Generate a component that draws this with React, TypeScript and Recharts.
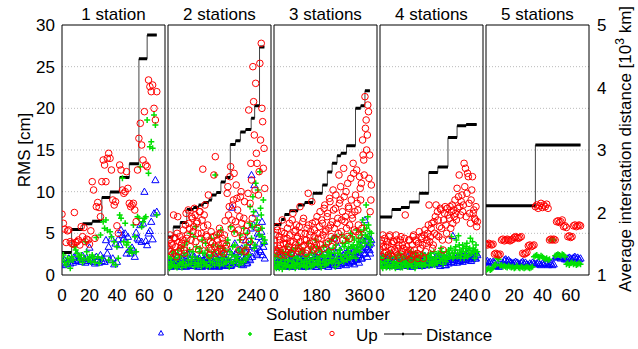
import React from 'react';
import { ComposedChart, Scatter, Line, XAxis, YAxis, ReferenceLine } from 'recharts';

const FONT = '"Liberation Sans", Arial, Helvetica, sans-serif';
const BLUE = '#0000ff';
const GREEN = '#00e000';
const RED = '#ff0000';

// panel layout
const titles = ['1 station', '2 stations', '3 stations', '4 stations', '5 stations'];
const panelLefts = [62, 168, 274, 380, 486];
const PLOT_W = 103;
const SIDE = 15;
const xMaxes = [75, 296, 436, 294, 73];
const xTicks = [[0, 20, 40, 60], [0, 120, 240], [0, 180, 360], [0, 120, 240], [0, 20, 40, 60]];
// solution-number spacing of the listed values; "Mid" lists sit halfway between
const sampleStep = [1, 4, 5, 4, 1];
const midOffset = [0, 2, 2, 2, 0];

const rmsTicks = [0, 5, 10, 15, 20, 25, 30];
const gridValues = [5, 10, 15, 20, 25];
const distTicks = [1, 2, 3, 4, 5];
const legendItems = ['North', 'East', 'Up', 'Distance'];

// RMS [cm] per solution, 1 station
const north1 = [
  1.5, 1.2, 1.8, 1.3, 1.6, 2.0, 1.4, 1.9, 1.5, 2.2,
  1.7, 2.5, 1.8, 2.0, 1.6, 2.3, 1.9, 1.5, 2.1, 1.7,
  3.3, 1.8, 2.0, 1.6, 1.4, 2.2, 1.8, 1.5, 2.4, 1.7,
  2.0, 1.6, 4.2, 2.6, 3.4, 1.8, 4.4, 2.0, 1.3, 3.8,
  1.6, 4.3, 3.6, 5.4, 4.8, 4.4, 5.0, 2.6, 4.6, 3.0,
  2.6, 3.3, 3.0, 2.2, 5.1, 4.4, 4.2, 6.0, 4.0, 6.2,
  10.0, 4.1, 3.6, 5.0, 5.3, 6.4, 4.3, 7.4, 11.4, 7.6,
];
const east1 = [
  1.8, 2.4, 1.5, 1.2, 2.0, 1.6, 0.8, 2.2, 1.8, 3.4,
  3.0, 2.6, 2.2, 1.8, 2.4, 1.5, 2.0, 4.0, 2.8, 1.8,
  2.2, 1.6, 2.4, 2.0, 1.5, 4.5, 2.2, 1.4, 4.8, 2.0,
  6.4, 5.6, 6.6, 5.4, 1.8, 5.2, 4.6, 1.5, 4.0, 1.2,
  3.4, 2.0, 7.2, 6.8, 11.6, 4.0, 6.2, 3.6, 3.9, 2.8,
  3.2, 2.6, 6.0, 4.6, 2.8, 7.0, 6.8, 13.0, 5.8, 6.4,
  6.8, 7.0, 18.6, 12.2, 15.4, 16.0, 15.2, 19.2, 18.0, 7.2,
];
const up1 = [
  7.3, 6.2, 5.5, 3.9, 5.3, 5.4, 4.0, 3.8, 3.7, 7.5,
  3.9, 4.0, 4.2, 3.6, 5.8, 4.6, 5.7, 4.0, 4.3, 4.2,
  3.7, 5.3, 11.2, 10.2, 4.4, 8.2, 8.7, 8.1, 7.0, 11.2,
  13.8, 13.2, 11.2, 14.0, 14.6, 14.0, 12.6, 9.0, 8.4, 8.8,
  5.9, 5.0, 13.2, 12.6, 10.2, 9.8, 10.0, 12.4, 10.4, 8.6,
  8.2, 8.4, 8.6, 7.8, 6.4, 12.6, 16.4, 18.2, 15.6, 13.8,
  19.6, 13.2, 13.0, 23.4, 22.6, 22.0, 22.8, 20.0, 18.6, 22.0,
];
const distLevels1 = [1.36, 1.73, 1.82, 1.86, 2.24, 2.33, 2.56, 2.78, 4.46, 4.84];
const distEdges1 = [0, 7, 15, 22, 29, 35, 42, 49, 56, 62, 69];

// 2 stations (every 4th solution, plus the ones halfway between)
const north2 = [
  1.2, 1.6, 1.0, 2.2, 1.4, 1.8, 1.1, 2.4, 1.5, 1.3,
  2.0, 1.2, 1.7, 1.0, 2.6, 1.4, 1.9, 1.1, 1.5, 2.2,
  1.3, 1.8, 1.0, 1.6, 2.4, 1.2, 1.5, 1.1, 2.0, 1.4,
  1.7, 1.0, 1.3, 2.6, 1.5, 1.2, 1.8, 1.1, 1.4, 2.0,
  1.6, 1.2, 1.9, 1.3, 1.5, 1.1, 8.1, 2.2, 3.8, 1.6,
  2.8, 1.4, 1.8, 3.2, 1.2, 2.0, 4.2, 1.5, 2.6, 1.8,
  12.0, 3.6, 10.8, 7.4, 2.4, 4.6, 3.0, 5.2, 2.4, 4.0,
];
const north2Mid = [
  1.8, 1.1, 1.4, 2.0, 1.2, 1.6, 2.2, 1.3, 1.0, 1.7,
  1.4, 2.1, 1.1, 1.6, 1.2, 1.9, 1.4, 2.4, 1.1, 1.5,
  1.7, 1.2, 2.0, 1.4, 1.0, 1.8, 1.3, 2.2, 1.5, 1.1,
  1.9, 1.3, 1.6, 1.1, 2.2, 1.4, 1.0, 1.7, 1.2, 2.4,
  1.3, 1.8, 1.1, 1.5, 2.8, 1.2, 2.0, 1.4, 2.6, 1.9,
  1.5, 3.0, 1.3, 2.2, 1.7, 2.8, 1.4, 3.4, 2.0, 5.6,
  2.2, 6.0, 3.2, 2.6, 5.0, 3.8, 2.8, 6.4, 3.4, 2.0,
];
const east2 = [
  1.4, 0.8, 2.0, 1.2, 2.6, 1.0, 1.8, 3.0, 1.2, 2.2,
  0.9, 1.6, 3.6, 1.1, 2.4, 1.3, 5.0, 1.8, 2.8, 1.0,
  5.8, 2.0, 1.4, 3.2, 1.0, 2.6, 1.6, 3.8, 1.2, 2.2,
  1.0, 4.4, 1.5, 2.8, 12.0, 1.8, 3.4, 1.1, 5.4, 2.0,
  1.3, 3.0, 1.6, 4.2, 1.0, 5.8, 2.4, 1.4, 3.6, 1.8,
  2.2, 1.2, 4.8, 2.6, 1.5, 3.2, 1.8, 5.0, 2.4, 8.2,
  4.4, 9.4, 3.2, 11.0, 6.6, 5.4, 12.4, 7.2, 4.6, 3.8,
];
const east2Mid = [
  2.2, 1.0, 1.6, 2.8, 1.2, 2.0, 0.9, 2.4, 1.4, 3.2,
  1.6, 2.6, 1.2, 4.0, 1.8, 3.0, 1.3, 2.2, 4.6, 1.5,
  3.4, 1.2, 2.8, 1.8, 4.2, 1.4, 2.6, 1.1, 3.0, 2.0,
  1.6, 2.4, 3.6, 1.2, 2.0, 4.8, 1.4, 2.6, 1.8, 3.2,
  2.4, 1.5, 3.8, 2.0, 2.8, 1.6, 3.4, 5.2, 2.2, 1.8,
  3.0, 4.2, 1.6, 2.8, 5.6, 2.0, 3.6, 2.4, 6.2, 4.0,
  5.8, 7.6, 3.6, 6.0, 10.2, 4.8, 8.0, 5.6, 9.0, 4.2,
];
const up2 = [
  3.5, 4.2, 2.8, 3.6, 7.2, 4.5, 2.2, 7.0, 4.0, 3.2,
  3.8, 5.4, 2.6, 7.4, 4.8, 6.2, 3.4, 7.0, 5.2, 8.0,
  4.0, 6.4, 3.0, 7.6, 5.0, 12.7, 7.2, 3.6, 4.6, 9.6,
  2.4, 5.2, 3.8, 12.0, 14.2, 4.8, 2.8, 5.6, 3.2, 4.4,
  2.6, 6.5, 3.6, 10.6, 8.2, 13.0, 6.6, 9.0, 5.0, 10.8,
  7.8, 3.0, 9.4, 6.2, 4.2, 8.8, 3.0, 6.0, 19.8, 8.6,
  11.4, 25.0, 16.8, 23.0, 13.4, 9.6, 25.4, 27.8, 18.4, 15.2,
];
const up2Mid = [
  3.0, 4.8, 3.8, 2.6, 4.4, 3.4, 5.0, 2.8, 4.6, 3.6,
  4.2, 3.0, 6.0, 4.4, 7.8, 5.6, 4.2, 6.8, 5.8, 7.2,
  6.2, 5.0, 7.6, 4.4, 6.6, 5.8, 8.4, 4.8, 6.0, 3.2,
  4.0, 3.0, 4.6, 3.4, 2.6, 4.2, 3.6, 5.0, 2.8, 3.8,
  4.8, 3.2, 9.8, 7.2, 11.8, 5.6, 8.4, 12.2, 6.4, 9.2,
  5.4, 7.0, 10.0, 4.6, 6.8, 2.8, 5.2, 9.8, 4.0, 13.4,
  6.8, 20.8, 10.2, 14.6, 5.6, 12.4, 16.2, 20.0, 12.8, 10.4,
];
const distLevels2 = [1.61, 1.77, 1.84, 2.05, 2.08, 2.12, 2.16, 2.2, 2.28, 2.32, 2.49, 2.56, 3.09, 3.15, 3.29, 3.33, 3.51, 3.71, 4.65];
const distEdges2 = [0, 15, 35, 54, 73, 88, 102, 117, 126, 139, 152, 165, 179, 194, 208, 223, 239, 249, 263, 277];

// 3 stations (every 5th solution, plus the ones in between)
const north3 = [
  1.4, 2.0, 1.1, 1.6, 2.4, 1.2, 1.8, 1.0, 2.2, 1.5,
  1.3, 2.8, 1.1, 1.7, 1.4, 2.0, 1.0, 1.6, 2.3, 1.2,
  1.9, 1.4, 1.1, 2.6, 1.5, 1.2, 1.8, 1.0, 2.1, 1.4,
  1.6, 1.1, 2.4, 1.3, 1.7, 1.0, 2.0, 1.5, 1.2, 2.2,
  1.4, 1.1, 1.8, 2.6, 1.3, 1.6, 1.0, 2.0, 1.4, 2.8,
  1.2, 4.4, 1.6, 2.2, 1.1, 1.8, 2.4, 1.3, 2.0, 1.5,
  2.6, 1.2, 1.9, 3.0, 1.4, 2.2, 1.6, 2.8, 1.3, 2.0,
  1.8, 2.4, 1.5, 3.2, 2.0, 4.2, 2.6, 6.6, 3.4, 2.2,
  4.6, 3.0, 3.8,
];
const north3Mid = [
  1.8, 1.2, 1.5, 2.6, 1.0, 1.6, 2.0, 1.3, 1.7, 1.1,
  2.2, 1.4, 1.0, 1.8, 1.3, 2.4, 1.6, 1.1, 1.9, 1.4,
  1.2, 2.0, 1.5, 1.0, 1.7, 2.3, 1.3, 1.6, 1.1, 1.9,
  2.4, 1.4, 1.2, 1.8, 1.5, 2.1, 1.0, 1.6, 2.6, 1.3,
  1.7, 2.2, 1.2, 1.5, 2.0, 1.4, 3.0, 1.6, 1.2, 2.2,
  1.8, 1.4, 2.6, 1.6, 3.4, 1.3, 2.0, 1.7, 2.4, 1.5,
  2.2, 1.8, 2.8, 1.5, 2.4, 3.2, 1.7, 2.0, 2.6, 1.9,
  2.8, 2.2, 3.6, 2.4, 2.0, 3.0, 3.8, 2.6, 4.4, 3.2,
  3.6, 2.6, 4.2,
];
const east3 = [
  1.0, 2.2, 0.8, 1.6, 3.0, 1.2, 2.0, 0.7, 2.6, 1.4,
  1.0, 3.4, 1.8, 0.9, 2.4, 1.2, 3.0, 1.5, 0.8, 2.0,
  1.3, 3.6, 1.0, 1.8, 2.8, 1.1, 1.6, 0.9, 2.2, 3.8,
  1.4, 1.0, 2.6, 1.7, 1.2, 4.2, 2.0, 1.3, 3.0, 1.6,
  0.9, 2.4, 3.4, 1.2, 1.8, 2.8, 1.4, 4.0, 2.2, 1.5,
  3.2, 1.8, 1.0, 4.6, 2.6, 1.4, 3.0, 2.0, 3.8, 1.6,
  2.4, 4.4, 1.8, 3.2, 2.6, 5.0, 2.2, 3.6, 4.2, 2.8,
  5.4, 3.0, 4.0, 3.4, 4.8, 6.6, 5.4, 3.8, 8.4, 4.6,
  6.0, 5.2, 4.0,
];
const east3Mid = [
  1.6, 1.0, 2.4, 1.3, 0.8, 2.0, 1.5, 2.8, 1.1, 1.8,
  2.4, 1.2, 1.7, 2.8, 1.0, 1.6, 2.2, 1.2, 3.2, 1.4,
  2.0, 1.0, 2.6, 1.5, 3.0, 1.2, 2.2, 1.6, 1.0, 2.4,
  1.8, 3.2, 1.1, 2.0, 2.6, 1.4, 3.4, 1.7, 2.2, 1.2,
  2.8, 1.6, 2.2, 3.6, 1.3, 2.4, 3.0, 1.8, 2.6, 4.4,
  1.6, 2.6, 3.6, 2.0, 1.4, 3.0, 2.4, 4.8, 1.8, 3.4,
  3.8, 2.2, 2.8, 4.0, 2.0, 3.4, 4.6, 2.6, 3.2, 2.0,
  3.6, 4.4, 2.8, 5.2, 3.4, 4.2, 6.0, 4.8, 5.6, 7.0,
  4.4, 3.6, 5.0,
];
const up3 = [
  3.5, 4.8, 2.6, 5.4, 3.2, 4.2, 2.4, 6.6, 3.8, 5.0,
  2.8, 4.4, 3.4, 6.2, 4.0, 2.6, 7.4, 5.2, 3.6, 6.0,
  4.6, 2.8, 8.2, 5.0, 3.4, 6.8, 4.2, 2.6, 5.6, 9.8,
  3.8, 5.2, 8.8, 3.0, 4.6, 6.4, 3.6, 5.0, 2.8, 7.6,
  4.4, 6.2, 3.2, 8.4, 5.4, 7.0, 4.0, 9.2, 6.0, 3.4,
  10.2, 5.6, 8.0, 4.2, 6.8, 12.0, 9.0, 5.2, 7.6, 12.8,
  6.4, 10.0, 4.6, 8.2, 6.0, 11.6, 7.2, 13.4, 5.4, 9.6,
  12.6, 7.8, 4.8, 10.4, 11.0, 16.2, 13.8, 21.4, 18.6, 16.8,
  19.6, 14.4, 9.0,
];
const up3Mid = [
  4.2, 3.0, 5.8, 2.8, 4.6, 3.6, 5.2, 3.0, 4.4, 2.4,
  3.8, 5.6, 3.0, 4.8, 2.6, 6.6, 4.0, 3.2, 5.4, 4.4,
  3.2, 5.8, 4.0, 2.8, 6.4, 3.6, 5.0, 4.2, 3.0, 6.0,
  4.8, 3.4, 6.2, 4.0, 5.4, 3.2, 7.0, 4.4, 5.8, 3.6,
  6.6, 4.8, 8.0, 5.2, 3.8, 7.4, 5.6, 8.8, 4.6, 6.4,
  7.8, 4.4, 9.6, 6.2, 5.0, 8.6, 10.6, 6.6, 4.2, 9.4,
  7.0, 5.6, 11.0, 8.0, 4.4, 9.0, 6.8, 12.2, 7.6, 5.2,
  8.6, 6.0, 11.8, 9.0, 5.6, 14.4, 12.0, 17.6, 15.0, 20.4,
  11.6, 7.6, 10.8,
];
const distLevels3 = [1.81, 1.89, 1.97, 2.03, 2.12, 2.16, 2.31, 2.44, 2.65, 2.79, 2.91, 2.95, 3.07, 3.67, 3.71, 3.95];
const distEdges3 = [0, 31, 45, 66, 102, 130, 165, 205, 226, 246, 267, 283, 307, 345, 367, 385, 406];

// 4 stations (every 4th solution, plus the ones halfway between)
const north4 = [
  1.8, 1.4, 2.2, 1.2, 1.6, 2.0, 1.1, 1.7, 1.4, 2.4,
  1.2, 1.5, 1.9, 1.0, 1.6, 1.3, 2.1, 1.5, 1.2, 1.8,
  2.2, 1.3, 1.6, 1.0, 1.4, 2.0, 1.7, 1.2, 1.5, 1.9,
  1.1, 1.6, 2.3, 1.4, 1.8, 1.2, 2.0, 1.5, 1.3, 1.7,
  2.2, 1.4, 1.6, 1.1, 1.9, 2.4, 1.5, 1.2, 1.8, 1.4,
  2.0, 1.6, 4.7, 1.8, 2.2, 1.5, 2.0, 1.7, 2.4, 1.6,
  2.1, 1.8, 2.6, 1.9, 2.2, 1.7, 2.4, 2.8, 2.0, 2.6,
];
const north4Mid = [
  1.3, 2.0, 1.5, 1.1, 1.8, 1.4, 2.2, 1.2, 1.6, 1.3,
  1.9, 1.1, 1.6, 2.2, 1.4, 1.2, 1.7, 2.0, 1.4, 1.1,
  1.6, 1.9, 1.3, 1.8, 2.4, 1.2, 1.5, 1.8, 1.1, 1.6,
  1.9, 1.3, 1.7, 1.2, 2.1, 1.6, 1.4, 2.4, 1.8, 1.5,
  1.6, 2.0, 1.3, 2.2, 1.5, 1.8, 1.2, 2.0, 1.6, 2.2,
  1.8, 2.4, 1.5, 2.0, 2.6, 1.7, 2.2, 1.9, 2.3, 1.8,
  2.4, 2.0, 2.2, 2.8, 2.1, 1.9, 2.6, 2.2, 2.0, 2.4,
];
const east4 = [
  1.2, 2.0, 0.8, 1.5, 2.4, 1.0, 1.8, 0.9, 2.2, 1.3,
  1.6, 0.8, 2.0, 1.1, 2.6, 1.4, 0.9, 1.7, 1.2, 2.2,
  1.0, 1.5, 2.8, 1.1, 1.8, 0.8, 1.4, 2.0, 1.2, 2.4,
  1.0, 1.6, 1.3, 2.2, 1.9, 1.1, 2.6, 1.5, 1.8, 1.2,
  2.0, 1.4, 2.4, 1.7, 2.8, 1.3, 2.2, 1.6, 1.9, 3.0,
  2.2, 4.6, 2.0, 2.6, 3.4, 2.2, 4.7, 3.0, 2.4, 3.6,
  2.0, 2.8, 3.8, 2.4, 3.2, 2.6, 4.0, 2.8, 3.0, 2.4,
];
const east4Mid = [
  1.6, 1.0, 2.2, 1.4, 0.9, 1.8, 1.2, 2.6, 1.0, 1.6,
  2.2, 1.2, 1.5, 2.4, 0.9, 1.8, 2.2, 1.3, 1.6, 1.0,
  2.0, 1.4, 1.1, 2.2, 1.6, 2.6, 1.2, 1.8, 2.2, 1.4,
  2.6, 1.8, 1.2, 2.0, 2.4, 1.6, 2.2, 1.3, 2.8, 2.0,
  1.6, 2.6, 2.0, 3.2, 1.8, 2.4, 2.0, 2.8, 2.2, 2.6,
  3.2, 2.6, 2.2, 3.0, 4.2, 2.6, 3.6, 2.0, 2.8, 3.2,
  2.4, 3.4, 2.2, 3.0, 4.4, 2.6, 3.2, 2.0, 3.6, 2.8,
];
const up4 = [
  3.0, 4.2, 4.8, 2.6, 3.4, 4.0, 2.4, 4.8, 3.0, 2.2,
  4.0, 2.8, 4.2, 3.2, 2.0, 4.6, 3.6, 2.2, 7.2, 3.4,
  2.6, 4.2, 1.9, 3.6, 4.8, 2.4, 4.0, 2.0, 5.2, 3.2,
  4.4, 2.0, 5.4, 3.8, 5.0, 8.4, 4.6, 6.2, 3.6, 5.0,
  8.4, 7.6, 4.6, 8.0, 5.6, 3.0, 7.4, 6.0, 8.0, 4.2,
  8.2, 7.6, 6.2, 7.0, 7.4, 10.4, 9.4, 8.2, 8.8, 7.6,
  13.4, 12.8, 9.8, 11.8, 7.4, 9.0, 11.8, 7.8, 6.6, 5.8,
];
const up4Mid = [
  3.8, 2.2, 3.4, 4.4, 2.8, 3.6, 4.6, 2.6, 3.8, 4.0,
  3.0, 4.8, 2.4, 3.6, 4.2, 2.8, 3.2, 4.4, 3.0, 2.4,
  4.2, 3.0, 2.2, 4.6, 3.0, 4.2, 2.6, 3.8, 2.4, 4.6,
  3.6, 4.8, 2.8, 4.2, 6.0, 4.0, 5.6, 3.2, 6.4, 7.0,
  4.8, 6.6, 5.8, 7.8, 4.2, 6.6, 8.2, 5.0, 7.2, 6.8,
  5.6, 8.4, 7.8, 9.0, 6.6, 8.0, 12.0, 7.2, 9.6, 8.4,
  10.6, 7.0, 12.2, 8.6, 6.2, 10.2, 7.4, 6.8, 8.2, 6.4,
];
const distLevels4 = [1.93, 2.05, 2.08, 2.17, 2.31, 2.64, 2.73, 3.2, 3.39, 3.41];
const distEdges4 = [0, 34, 60, 84, 112, 139, 165, 194, 220, 246, 276];

// 5 stations
const north5 = [
  1.6, 1.7, 1.5, 1.6, 1.4, 1.6, 1.5, 1.1, 1.2, 1.0,
  1.3, 1.2, 1.4, 1.8, 1.9, 1.7, 1.8, 1.6, 1.5, 1.4,
  1.5, 1.6, 1.5, 1.4, 1.3, 1.5, 1.6, 1.4, 1.5, 1.3,
  1.2, 1.4, 1.3, 1.5, 1.4, 1.3, 1.4, 1.5, 1.3, 1.2,
  1.4, 1.3, 1.5, 1.4, 1.2, 1.3, 1.4, 1.2, 1.3, 2.1,
  2.2, 2.3, 2.2, 2.0, 2.1, 2.2, 1.9, 1.9, 2.0, 2.1,
  2.0, 1.9, 2.1, 2.2, 2.0, 2.1, 1.9, 2.0,
];
const east5 = [
  0.6, 0.7, 0.8, 0.6, 0.7, 0.9, 1.2, 1.3, 2.0, 1.9,
  1.1, 1.2, 1.0, 1.1, 1.0, 0.9, 1.1, 1.0, 0.9, 1.0,
  0.8, 0.9, 1.1, 0.9, 0.8, 1.0, 0.9, 0.8, 0.9, 1.0,
  0.9, 0.8, 0.9, 1.0, 2.2, 2.3, 2.4, 2.2, 2.1, 2.3,
  2.2, 2.0, 1.9, 2.0, 1.8, 1.9, 4.2, 4.3, 4.2, 2.3,
  2.4, 2.5, 2.4, 2.3, 2.5, 2.4, 2.2, 1.3, 1.4, 1.2,
  1.4, 1.5, 1.3, 1.4, 1.2, 1.3, 1.4, 1.3,
];
const up5 = [
  3.7, 3.6, 3.8, 3.7, 3.6, 3.7, 2.5, 2.6, 2.5, 2.4,
  2.5, 4.2, 4.3, 4.1, 4.2, 4.3, 4.2, 4.1, 4.2, 4.3,
  4.5, 4.6, 4.5, 4.4, 4.5, 4.6, 2.6, 2.5, 2.6, 2.7,
  3.5, 3.6, 3.4, 3.5, 3.6, 8.2, 8.4, 8.0, 8.3, 8.6,
  8.1, 8.4, 8.2, 8.5, 8.0, 4.2, 4.3, 4.2, 4.3, 4.2,
  6.4, 6.5, 6.3, 6.4, 6.6, 5.8, 5.9, 5.7, 4.6, 4.7,
  4.5, 4.6, 5.9, 6.0, 5.8, 5.9, 6.0, 5.9,
];
const distLevels5 = [2.11, 3.08];
const distEdges5 = [0, 35, 67];

const panels = [
  { north: north1, northMid: [], east: east1, eastMid: [], up: up1, upMid: [], levels: distLevels1, edges: distEdges1 },
  { north: north2, northMid: north2Mid, east: east2, eastMid: east2Mid, up: up2, upMid: up2Mid, levels: distLevels2, edges: distEdges2 },
  { north: north3, northMid: north3Mid, east: east3, eastMid: east3Mid, up: up3, upMid: up3Mid, levels: distLevels3, edges: distEdges3 },
  { north: north4, northMid: north4Mid, east: east4, eastMid: east4Mid, up: up4, upMid: up4Mid, levels: distLevels4, edges: distEdges4 },
  { north: north5, northMid: [], east: east5, eastMid: [], up: up5, upMid: [], levels: distLevels5, edges: distEdges5 },
];

const toPoints = (vals: number[], mids: number[], step: number, offset: number) => [
  ...vals.map((v, i) => ({ x: i * step, v })),
  ...mids.map((v, i) => ({ x: i * step + offset, v })),
];

// thin connecting staircase
const stepPath = (levels: number[], edges: number[]) => {
  const pts: { x: number; d: number }[] = [];
  levels.forEach((d, k) => {
    pts.push({ x: edges[k], d });
    pts.push({ x: edges[k + 1], d });
  });
  return pts;
};

// thick horizontal runs, broken between steps
const stepRuns = (levels: number[], edges: number[]) => {
  const pts: { x: number; d: number | null }[] = [];
  levels.forEach((d, k) => {
    pts.push({ x: edges[k], d });
    pts.push({ x: edges[k + 1], d });
    pts.push({ x: edges[k + 1], d: null });
  });
  return pts;
};

// inner tick marks on the panel sides: cm ticks plus the 10^3 km ticks expressed on the cm scale
const sideTicks = [...rmsTicks, ...distTicks.map((d) => ((d - 1) * 30) / 4)];

const TriangleDot = (p: any) => (
  <path
    d={`M${p.cx} ${p.cy - 3.6}L${p.cx + 3.6} ${p.cy + 2.7}L${p.cx - 3.6} ${p.cy + 2.7}Z`}
    fill="none"
    stroke={BLUE}
    strokeWidth={1}
  />
);
const PlusDot = (p: any) => (
  <path d={`M${p.cx - 3} ${p.cy}H${p.cx + 3}M${p.cx} ${p.cy - 3}V${p.cy + 3}`} stroke={GREEN} strokeWidth={1.5} />
);
const CircleDot = (p: any) => <circle cx={p.cx} cy={p.cy} r={3.3} fill="none" stroke={RED} strokeWidth={1} />;

const tickStyle = { fontSize: 17, fill: '#000', fontFamily: FONT };

function Panel({ index }: { index: number }) {
  const p = panels[index];
  const first = index === 0;
  const last = index === 4;
  const extraL = first ? 50 : 0;
  const extraR = last ? 30 : 0;
  const width = SIDE + extraL + PLOT_W + extraR + SIDE;
  const xDomain = [0, xMaxes[index]];
  const step = sampleStep[index];
  const off = midOffset[index];

  return (
    <div style={{ position: 'absolute', left: panelLefts[index] - SIDE - extraL, top: 0 }}>
      <ComposedChart width={width} height={320} margin={{ top: 25, bottom: 25, left: SIDE, right: SIDE }}>
        <XAxis
          dataKey="x"
          type="number"
          domain={xDomain}
          ticks={xTicks[index]}
          interval={0}
          allowDataOverflow
          tickLine={false}
          axisLine={false}
          tickSize={0}
          tickMargin={14}
          height={20}
          tick={tickStyle}
        />
        <XAxis xAxisId="xb" orientation="bottom" mirror type="number" domain={xDomain} ticks={xTicks[index]}
          allowDataOverflow tick={false} tickSize={4} stroke="#000" />
        <XAxis xAxisId="xt" orientation="top" mirror type="number" domain={xDomain} ticks={xTicks[index]}
          allowDataOverflow tick={false} tickSize={4} stroke="#000" />
        <YAxis
          yAxisId="l"
          dataKey="v"
          domain={[0, 30]}
          ticks={rmsTicks}
          interval={0}
          hide={!first}
          width={first ? extraL : 60}
          tickLine={false}
          axisLine={false}
          tickSize={0}
          tickMargin={7}
          tick={tickStyle}
        />
        <YAxis
          yAxisId="r"
          orientation="right"
          domain={[1, 5]}
          ticks={distTicks}
          interval={0}
          hide={!last}
          width={last ? extraR : 60}
          tickLine={false}
          axisLine={false}
          tickSize={0}
          tickMargin={8}
          tick={tickStyle}
        />
        <YAxis yAxisId="lt" orientation="left" mirror domain={[0, 30]} ticks={sideTicks} interval={0} tick={false} tickSize={4} stroke="#000" />
        <YAxis yAxisId="rt" orientation="right" mirror domain={[0, 30]} ticks={sideTicks} interval={0} tick={false} tickSize={4} stroke="#000" />

        {gridValues.map((g) => (
          <ReferenceLine key={g} yAxisId="l" y={g} stroke="#bbbbbb" strokeDasharray="1 2" />
        ))}

        <Scatter yAxisId="l" data={toPoints(p.north, p.northMid, step, off)} shape={TriangleDot} isAnimationActive={false} />
        <Scatter yAxisId="l" data={toPoints(p.east, p.eastMid, step, off)} shape={PlusDot} isAnimationActive={false} />
        <Scatter yAxisId="l" data={toPoints(p.up, p.upMid, step, off)} shape={CircleDot} isAnimationActive={false} />
        <Line
          yAxisId="r"
          data={stepPath(p.levels, p.edges)}
          dataKey="d"
          stroke="#444"
          strokeWidth={1}
          dot={false}
          isAnimationActive={false}
        />
        <Line
          yAxisId="r"
          data={stepRuns(p.levels, p.edges)}
          dataKey="d"
          stroke="#000"
          strokeWidth={3}
          dot={false}
          isAnimationActive={false}
        />
      </ComposedChart>
    </div>
  );
}

export default function App() {
  const legendX = [183, 273, 356, 426];
  return (
    <div style={{ position: 'absolute', left: 0, top: 0, width: 638, height: 349, background: '#fff', fontFamily: FONT }}>
      {panels.map((_, i) => (
        <Panel key={i} index={i} />
      ))}
      <svg width={638} height={349} style={{ position: 'absolute', left: 0, top: 0, pointerEvents: 'none' }}>
        <g fontFamily={FONT} fontSize={17} fill="#000">
          {titles.map((t, i) => (
            <text key={t} x={panelLefts[i] + PLOT_W / 2} y={20} textAnchor="middle">
              {t}
            </text>
          ))}
          <text x={328} y={319.5} textAnchor="middle">Solution number</text>
          <text transform="translate(30,150) rotate(-90)" textAnchor="middle">RMS [cm]</text>
          <text transform="translate(631,149) rotate(-90)" textAnchor="middle">
            Average interstation distance [10<tspan dy={-7} fontSize={12}>3</tspan>
            <tspan dy={7}> km]</tspan>
          </text>
          {legendItems.map((t, i) => (
            <text key={t} x={legendX[i]} y={341}>
              {t}
            </text>
          ))}
        </g>
        <path d="M161 330.5L163.5 335L158.5 335Z" fill="none" stroke={BLUE} strokeWidth={1} />
        <path d="M248 334H252M250 332V336" stroke={GREEN} strokeWidth={1.5} />
        <circle cx={332} cy={333.5} r={2.2} fill="none" stroke={RED} strokeWidth={1} />
        <path d="M384 334H422" stroke="#000" strokeWidth={1} />
        <path d="M402 334H404" stroke="#000" strokeWidth={2.5} />
      </svg>
    </div>
  );
}
